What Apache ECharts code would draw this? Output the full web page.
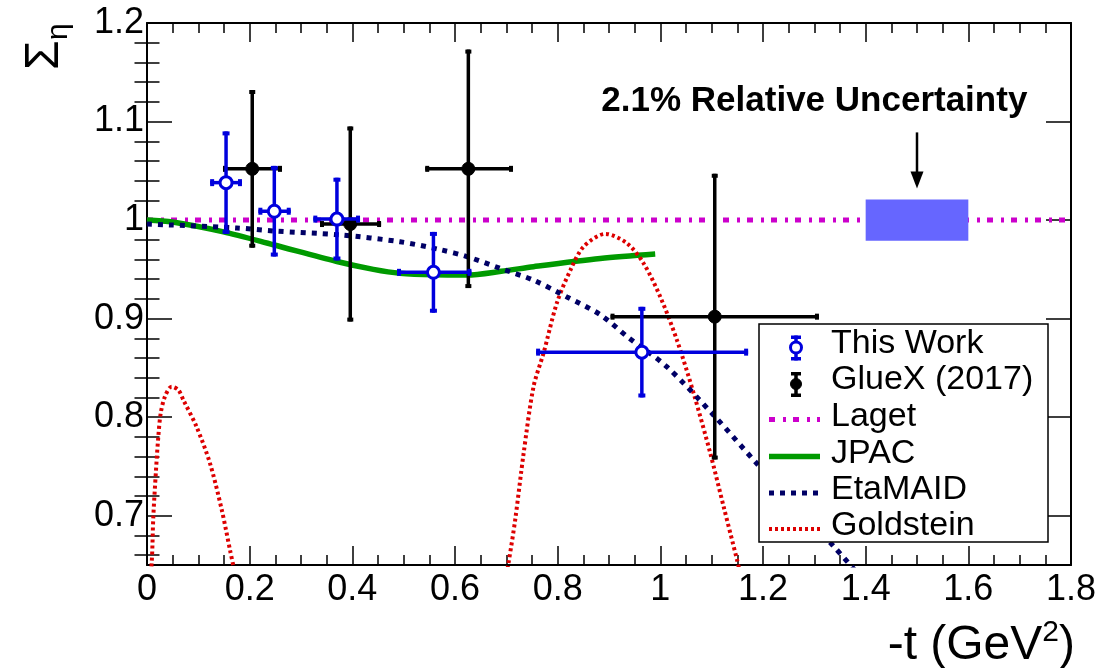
<!DOCTYPE html>
<html>
<head>
<meta charset="utf-8">
<title>Beam asymmetry vs -t</title>
<script src="https://cdn.jsdelivr.net/npm/echarts@6/dist/echarts.min.js"></script>
<style>
  html, body { margin: 0; padding: 0; background: #fff; }
  #chart { width: 1119px; height: 668px; }
</style>
</head>
<body>
<div id="chart"></div>
<script>
// ---- axis ticks ----
const xTickValues = [0, 0.2, 0.4, 0.6, 0.8, 1.0, 1.2, 1.4, 1.6, 1.8];
const xTickLabels = ['0', '0.2', '0.4', '0.6', '0.8', '1', '1.2', '1.4', '1.6', '1.8'];
const yTickValues = [0.7, 0.8, 0.9, 1.0, 1.1, 1.2];
const yTickLabels = ['0.7', '0.8', '0.9', '1', '1.1', '1.2'];

// ---- measurements: [-t, Sigma] with bin edges in -t and error on Sigma ----
const thisWorkT      = [0.154, 0.248, 0.370, 0.558, 0.964];
const thisWorkSigma  = [1.038, 1.009, 1.001, 0.947, 0.866];
const thisWorkErr    = [0.052, 0.046, 0.042, 0.041, 0.046];
const thisWorkTLow   = [0.123, 0.217, 0.324, 0.487, 0.758];
const thisWorkTHigh  = [0.185, 0.280, 0.415, 0.632, 1.171];

const gluexT     = [0.205, 0.396, 0.626, 1.106];
const gluexSigma = [1.052, 0.996, 1.052, 0.902];
const gluexErr   = [0.080, 0.099, 0.121, 0.145];
const gluexTLow  = [0.148, 0.337, 0.542, 0.903];
const gluexTHigh = [0.263, 0.456, 0.713, 1.309];

// ---- model curves: [-t, Sigma] ----
const lagetCurve = [[0, 1.0], [1.8, 1.0]];
const jpacCurve = [
  [0, 1.000], [0.05, 0.998], [0.149, 0.988], [0.246, 0.975], [0.370, 0.958],
  [0.441, 0.950], [0.493, 0.946], [0.560, 0.9445], [0.623, 0.9443], [0.690, 0.948],
  [0.753, 0.9527], [0.883, 0.961], [0.990, 0.9656]
];
const etaMaidCurve = [
  [0, 0.996], [0.175, 0.992], [0.246, 0.989], [0.376, 0.985], [0.493, 0.978],
  [0.571, 0.970], [0.623, 0.963], [0.688, 0.951], [0.753, 0.939], [0.818, 0.922],
  [0.883, 0.904], [0.935, 0.882], [1.013, 0.851], [1.104, 0.802], [1.188, 0.753],
  [1.341, 0.667], [1.400, 0.632]
];
const goldsteinLowT = [
  [0, 0.600], [0.0091, 0.652], [0.0123, 0.699], [0.0175, 0.746], [0.022, 0.780],
  [0.0267, 0.804], [0.035, 0.821], [0.048, 0.831], [0.061, 0.8276], [0.0708, 0.8175],
  [0.0967, 0.790], [0.1228, 0.753], [0.1456, 0.706], [0.1618, 0.665], [0.172, 0.640]
];
const goldsteinHighT = [
  [0.700, 0.640], [0.7043, 0.652], [0.7173, 0.696], [0.7336, 0.763], [0.753, 0.831],
  [0.7725, 0.865], [0.7985, 0.916], [0.8246, 0.949], [0.8505, 0.973], [0.8928, 0.986],
  [0.935, 0.9765], [0.9675, 0.956], [1.000, 0.922], [1.0325, 0.878], [1.065, 0.824],
  [1.0975, 0.763], [1.1234, 0.709], [1.1495, 0.655], [1.156, 0.640]
];

// ---- systematic band ----
const relUncertainty = 0.021;
const bandT = [1.4, 1.6];
const bandCenter = 1.0;

const legendNames = ['This Work', 'GlueX (2017)', 'Laget', 'JPAC', 'EtaMAID', 'Goldstein'];

// ---- styles ----
const FONT = '"Liberation Sans", Arial, Helvetica, sans-serif';
const BLUE = '#0000dd';
const BLACK = '#000000';
const MAGENTA = '#cc00cc';
const GREEN = '#009a00';
const NAVY = '#000066';
const RED = '#dd0000';
const BAND = '#6666ff';

const lagetStyle   = { color: MAGENTA, width: 5, type: [6, 8, 3, 7], cap: 'butt' };
const jpacStyle    = { color: GREEN, width: 5.5, type: 'solid', cap: 'butt' };
const etaMaidStyle = { color: NAVY, width: 5, type: [5, 6], cap: 'butt' };
const goldStyle    = { color: RED, width: 4, type: [3, 3], cap: 'butt' };

const thisWorkMarker = { color: BLUE, lineWidth: 3.5, cap: 7, capThick: 4, r: 6, fill: '#fff', markerStroke: 3 };
const gluexMarker    = { color: BLACK, lineWidth: 3.5, cap: 6, capThick: 4, r: 6.5, fill: BLACK, markerStroke: 1 };

function pointRows(t, s, lo, hi, err) {
  return t.map((v, i) => [v, s[i], lo[i], hi[i], err[i]]);
}

function errorBarRenderer(m) {
  return function (params, api) {
    const t = api.value(0), s = api.value(1);
    const tLo = api.value(2), tHi = api.value(3), e = api.value(4);
    const c = api.coord([t, s]);
    const L = api.coord([tLo, s]), R = api.coord([tHi, s]);
    const T = api.coord([t, s + e]), B = api.coord([t, s - e]);
    const stroke = { stroke: m.color, lineWidth: m.lineWidth, lineCap: 'butt' };
    const h = m.cap / 2, w = m.capThick;
    return {
      type: 'group',
      children: [
        { type: 'line', shape: { x1: L[0], y1: L[1], x2: R[0], y2: R[1] }, style: stroke },
        { type: 'line', shape: { x1: T[0], y1: T[1], x2: B[0], y2: B[1] }, style: stroke },
        { type: 'rect', shape: { x: L[0], y: L[1] - h, width: w, height: m.cap }, style: { fill: m.color } },
        { type: 'rect', shape: { x: R[0] - w, y: R[1] - h, width: w, height: m.cap }, style: { fill: m.color } },
        { type: 'rect', shape: { x: T[0] - h, y: T[1], width: m.cap, height: w }, style: { fill: m.color } },
        { type: 'rect', shape: { x: B[0] - h, y: B[1] - w, width: m.cap, height: w }, style: { fill: m.color } },
        { type: 'circle', shape: { cx: c[0], cy: c[1], r: m.r },
          style: { fill: m.fill, stroke: m.color, lineWidth: m.markerStroke } }
      ]
    };
  };
}

// band with its arrow and caption
function bandRenderer(params, api) {
  const t0 = api.value(0), t1 = api.value(1), c = api.value(2), rel = api.value(3);
  const p0 = api.coord([t0, c * (1 + rel)]);
  const p1 = api.coord([t1, c * (1 - rel)]);
  const mid = api.coord([(t0 + t1) / 2, c * (1 + rel)]);
  const tipY = mid[1] - 11, tailY = tipY - 56;
  const caption = api.coord([1.3, 1.121]);
  return {
    type: 'group',
    children: [
      { type: 'rect', shape: { x: p0[0], y: p0[1], width: p1[0] - p0[0], height: p1[1] - p0[1] },
        style: { fill: BAND } },
      { type: 'line', shape: { x1: mid[0], y1: tailY, x2: mid[0], y2: tipY - 14 },
        style: { stroke: '#000', lineWidth: 2.5 } },
      { type: 'polygon', shape: { points: [[mid[0] - 6.5, tipY - 17], [mid[0] + 6.5, tipY - 17], [mid[0], tipY]] },
        style: { fill: '#000' } },
      { type: 'text', style: {
          text: (rel * 100).toFixed(1) + '% Relative Uncertainty',
          x: caption[0], y: caption[1], align: 'center', verticalAlign: 'middle',
          fontFamily: FONT, fontSize: 35, fontWeight: 'bold', fill: '#000' } }
    ]
  };
}

function xLabel(v) {
  const i = xTickValues.findIndex(t => Math.abs(t - v) < 1e-6);
  return i >= 0 ? xTickLabels[i] : '';
}
function yLabel(v) {
  const i = yTickValues.findIndex(t => Math.abs(t - v) < 1e-6);
  return i >= 0 ? yTickLabels[i] : '';
}

// minor ticks on the Sigma axis every 0.02
const yMinorTicks = [];
for (let k = 33; k <= 60; k++) {
  if (k % 5 !== 0) yMinorTicks.push(+(k * 0.02).toFixed(2));
}

const frameLine = { color: '#000', width: 2 };
const tickLine = { color: '#000', width: 1.5 };

const xAxisBase = {
  type: 'value', min: 0, max: 1.8, interval: 0.2,
  axisLine: { show: true, onZero: false, lineStyle: frameLine },
  axisTick: { show: true, inside: true, length: 19, lineStyle: tickLine },
  minorTick: { show: true, splitNumber: 4, length: 10, lineStyle: tickLine },
  splitLine: { show: false }, minorSplitLine: { show: false }
};
const yAxisBase = {
  type: 'value', min: 0.65, max: 1.2,
  splitLine: { show: false }, minorSplitLine: { show: false },
  axisLabel: { show: false }
};

const chart = echarts.init(document.getElementById('chart'), null, { renderer: 'canvas' });

// legend (drawn as a framed box)
const LEG = { x: 759, y: 324, w: 289, h: 218, textX: 831, iconX: 796, lineX0: 769, lineX1: 820,
              rows: [343.5, 380, 416.5, 453.5, 490, 526] };
const legendEls = [
  { type: 'rect', z: 100, shape: { x: LEG.x, y: LEG.y, width: LEG.w, height: LEG.h },
    style: { fill: '#fff', stroke: '#000', lineWidth: 1.5 } }
];
function legendMarker(m, cy) {
  const x = LEG.iconX, top = cy - 12, bot = cy + 13, cw = 10;
  return [
    { type: 'line', z: 101, shape: { x1: x, y1: top, x2: x, y2: bot }, style: { stroke: m.color, lineWidth: 3.5 } },
    { type: 'rect', z: 101, shape: { x: x - cw / 2, y: top, width: cw, height: 3.5 }, style: { fill: m.color } },
    { type: 'rect', z: 101, shape: { x: x - cw / 2, y: bot - 3.5, width: cw, height: 3.5 }, style: { fill: m.color } },
    { type: 'circle', z: 102, shape: { cx: x, cy: cy, r: 5.5 },
      style: { fill: m.fill, stroke: m.color, lineWidth: m.markerStroke } }
  ];
}
function legendLine(ls, cy) {
  return [{ type: 'line', z: 101, shape: { x1: LEG.lineX0, y1: cy, x2: LEG.lineX1, y2: cy },
            style: { stroke: ls.color, lineWidth: ls.width, lineDash: Array.isArray(ls.type) ? ls.type : null } }];
}
const legendIcons = [
  legendMarker(thisWorkMarker, LEG.rows[0] + 4),
  legendMarker(gluexMarker, LEG.rows[1] + 4),
  legendLine(lagetStyle, LEG.rows[2] + 3),
  legendLine(jpacStyle, LEG.rows[3] + 3),
  legendLine(etaMaidStyle, LEG.rows[4] + 3),
  legendLine(goldStyle, LEG.rows[5] + 3)
];
legendNames.forEach((name, i) => {
  legendEls.push(...legendIcons[i]);
  legendEls.push({ type: 'text', z: 101, x: LEG.textX, y: LEG.rows[i],
    style: { text: name, fontFamily: FONT, fontSize: 34, fill: '#000', align: 'left', verticalAlign: 'middle' } });
});

const option = {
  animation: false,
  backgroundColor: '#fff',
  grid: { left: 147, top: 23, right: 48, bottom: 103, containLabel: false },
  xAxis: [
    Object.assign({}, xAxisBase, { position: 'bottom',
      axisLabel: { show: true, margin: 7, fontFamily: FONT, fontSize: 36, color: '#000', formatter: xLabel } }),
    Object.assign({}, xAxisBase, { position: 'top', axisLabel: { show: false } })
  ],
  yAxis: [
    Object.assign({}, yAxisBase, { position: 'left',
      axisLine: { show: true, onZero: false, lineStyle: frameLine },
      axisTick: { show: true, inside: true, length: 25, lineStyle: tickLine, customValues: yTickValues },
      axisLabel: { show: true, margin: 3, fontFamily: FONT, fontSize: 36, color: '#000',
                   customValues: yTickValues, formatter: yLabel } }),
    Object.assign({}, yAxisBase, { position: 'left',
      axisLine: { show: false },
      axisTick: { show: true, inside: true, length: 12.5, lineStyle: tickLine, customValues: yMinorTicks } }),
    Object.assign({}, yAxisBase, { position: 'right',
      axisLine: { show: true, onZero: false, lineStyle: frameLine },
      axisTick: { show: true, inside: true, length: 25, lineStyle: tickLine, customValues: yTickValues } }),
    Object.assign({}, yAxisBase, { position: 'right',
      axisLine: { show: false },
      axisTick: { show: true, inside: true, length: 12.5, lineStyle: tickLine, customValues: yMinorTicks } })
  ],
  graphic: [
    // y-axis title Sigma_eta, rotated
    { type: 'text', x: 45, y: 70, rotation: Math.PI / 2,
      style: { text: 'Σ', fontFamily: FONT, fontSize: 48, fill: '#000', align: 'left', verticalAlign: 'middle' } },
    { type: 'text', x: 59, y: 40, rotation: Math.PI / 2,
      style: { text: 'η', fontFamily: FONT, fontSize: 30, fill: '#000', align: 'left', verticalAlign: 'middle' } },
    // x-axis title
    { type: 'text', x: 1075, y: 645.5,
      style: { text: '{a|-t (GeV}{s|2}{a|)}', align: 'right', verticalAlign: 'middle', fill: '#000',
        rich: {
          a: { fontFamily: FONT, fontSize: 48, lineHeight: 56, fill: '#000' },
          s: { fontFamily: FONT, fontSize: 30, lineHeight: 26, verticalAlign: 'top', fill: '#000' }
        } } },
    ...legendEls
  ],
  series: [
    { name: 'Laget', type: 'line', data: lagetCurve, symbol: 'none', z: 2, lineStyle: lagetStyle, silent: true },
    { name: 'JPAC', type: 'line', data: jpacCurve, symbol: 'none', smooth: 0.3, z: 2, lineStyle: jpacStyle, silent: true },
    { name: 'Goldstein', type: 'line', data: goldsteinLowT, symbol: 'none', smooth: 0.3, z: 2, lineStyle: goldStyle, silent: true },
    { name: 'Goldstein', type: 'line', data: goldsteinHighT, symbol: 'none', smooth: 0.3, z: 2, lineStyle: goldStyle, silent: true },
    { name: 'EtaMAID', type: 'line', data: etaMaidCurve, symbol: 'none', smooth: 0.3, z: 2, lineStyle: etaMaidStyle, silent: true },
    { name: 'Relative Uncertainty', type: 'custom', coordinateSystem: 'cartesian2d', z: 3,
      renderItem: bandRenderer, data: [[bandT[0], bandT[1], bandCenter, relUncertainty]], encode: { x: 0, y: 2 } },
    { name: 'GlueX (2017)', type: 'custom', coordinateSystem: 'cartesian2d', z: 4,
      renderItem: errorBarRenderer(gluexMarker),
      data: pointRows(gluexT, gluexSigma, gluexTLow, gluexTHigh, gluexErr), encode: { x: 0, y: 1 } },
    { name: 'This Work', type: 'custom', coordinateSystem: 'cartesian2d', z: 5,
      renderItem: errorBarRenderer(thisWorkMarker),
      data: pointRows(thisWorkT, thisWorkSigma, thisWorkTLow, thisWorkTHigh, thisWorkErr), encode: { x: 0, y: 1 } }
  ]
};
chart.setOption(option);
</script>
</body>
</html>
